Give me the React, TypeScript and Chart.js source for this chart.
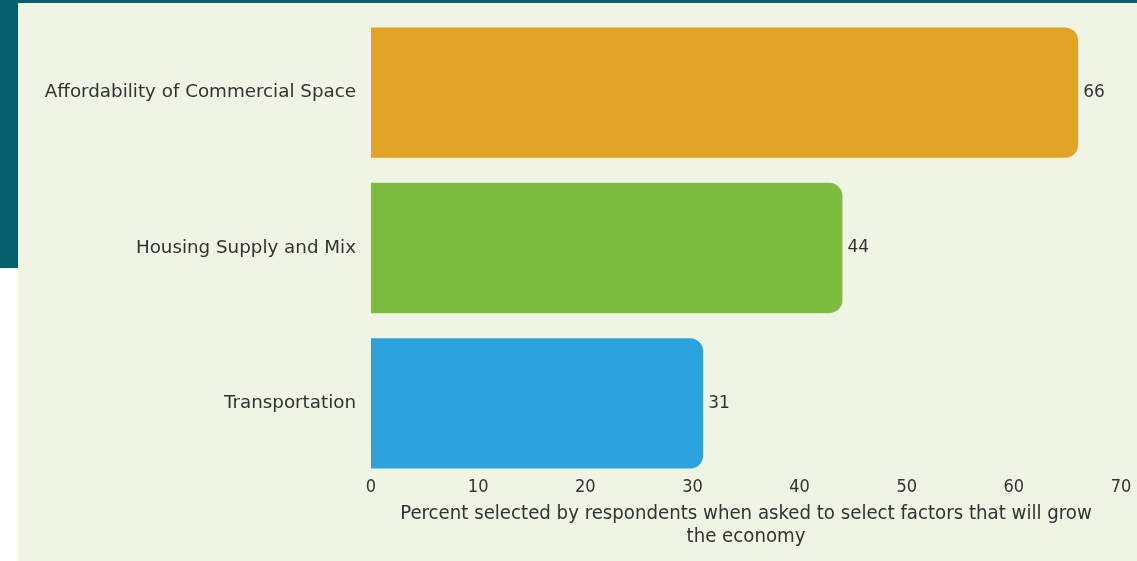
import React, { useEffect, useRef } from "react";
import { Chart, registerables } from "chart.js";

Chart.register(...registerables);

const categories = [
  "Affordability of Commercial Space",
  "Housing Supply and Mix",
  "Transportation",
];
const values = [66, 44, 31];
const barColors = ["#E1A429", "#7DBB41", "#2AA2DE"];
const axisTitle = [
  "Percent selected by respondents when asked to select factors that will grow",
  "the economy",
];
const xMin = 0;
const xMax = 70;
const xStep = 10;

const narrow = '"DejaVu Sans Condensed", Roboto, sans-serif';

const valueLabels = {
  id: "valueLabels",
  afterDatasetsDraw(chart: any) {
    const ctx = chart.ctx;
    const meta = chart.getDatasetMeta(0);
    ctx.save();
    ctx.fillStyle = "#333333";
    ctx.font = '17px "DejaVu Sans"';
    ctx.textAlign = "left";
    ctx.textBaseline = "middle";
    meta.data.forEach((bar: any, i: number) => {
      ctx.fillText(String(values[i]), bar.x + 5, bar.y);
    });
    ctx.restore();
  },
};

export default function App() {
  const ref = useRef<HTMLCanvasElement>(null);
  useEffect(() => {
    if (!ref.current) return;
    const chart = new Chart(ref.current, {
      type: "bar",
      data: {
        labels: categories,
        datasets: [
          {
            data: values,
            backgroundColor: barColors,
            borderRadius: 13,
            borderSkipped: "start",
            categoryPercentage: 1,
            barPercentage: 0.839,
          },
        ],
      },
      options: {
        indexAxis: "y",
        animation: false,
        responsive: false,
        maintainAspectRatio: false,
        layout: { padding: { top: 15, right: 16, left: 0, bottom: 9 } },
        plugins: {
          legend: { display: false },
          tooltip: { enabled: false },
        },
        scales: {
          x: {
            min: xMin,
            max: xMax,
            grid: { display: false, drawTicks: false },
            border: { display: false },
            ticks: {
              stepSize: xStep,
              padding: 0,
              color: "#333333",
              font: { family: narrow, size: 18, lineHeight: 0.65 },
            },
            title: {
              display: true,
              text: axisTitle,
              color: "#333333",
              font: { family: narrow, size: 20.2, lineHeight: 1.13 },
              padding: { top: 0, bottom: 4 },
            },
            afterFit(scale: any) {
              scale.height = 71;
              scale.paddingLeft = 0;
              scale.paddingRight = 0;
              scale._computeLabelArea = () => undefined;
            },
          },
          y: {
            grid: { display: false, drawTicks: false },
            border: { display: false },
            ticks: {
              padding: 15,
              color: "#333333",
              font: { family: '"DejaVu Sans"', size: 18.3 },
            },
            afterFit(scale: any) {
              scale.width = 371;
              scale.paddingTop = 0;
              scale.paddingBottom = 0;
            },
          },
        },
      },
      plugins: [valueLabels],
    });
    return () => chart.destroy();
  }, []);

  return (
    <div style={{ position: "fixed", left: 0, top: 0, width: 1137, height: 561, background: "#ffffff", overflow: "hidden" }}>
      <div style={{ position: "absolute", left: 0, top: 0, width: 1137, height: 3, background: "#045F6A" }} />
      <div style={{ position: "absolute", left: 0, top: 0, width: 18, height: 268, background: "#045F6A" }} />
      <div style={{ position: "absolute", left: 18, top: 3, width: 1119, height: 558, background: "#EEF5E5" }} />
      <canvas ref={ref} width={1137} height={561} style={{ position: "absolute", left: 0, top: 0 }} />
    </div>
  );
}
